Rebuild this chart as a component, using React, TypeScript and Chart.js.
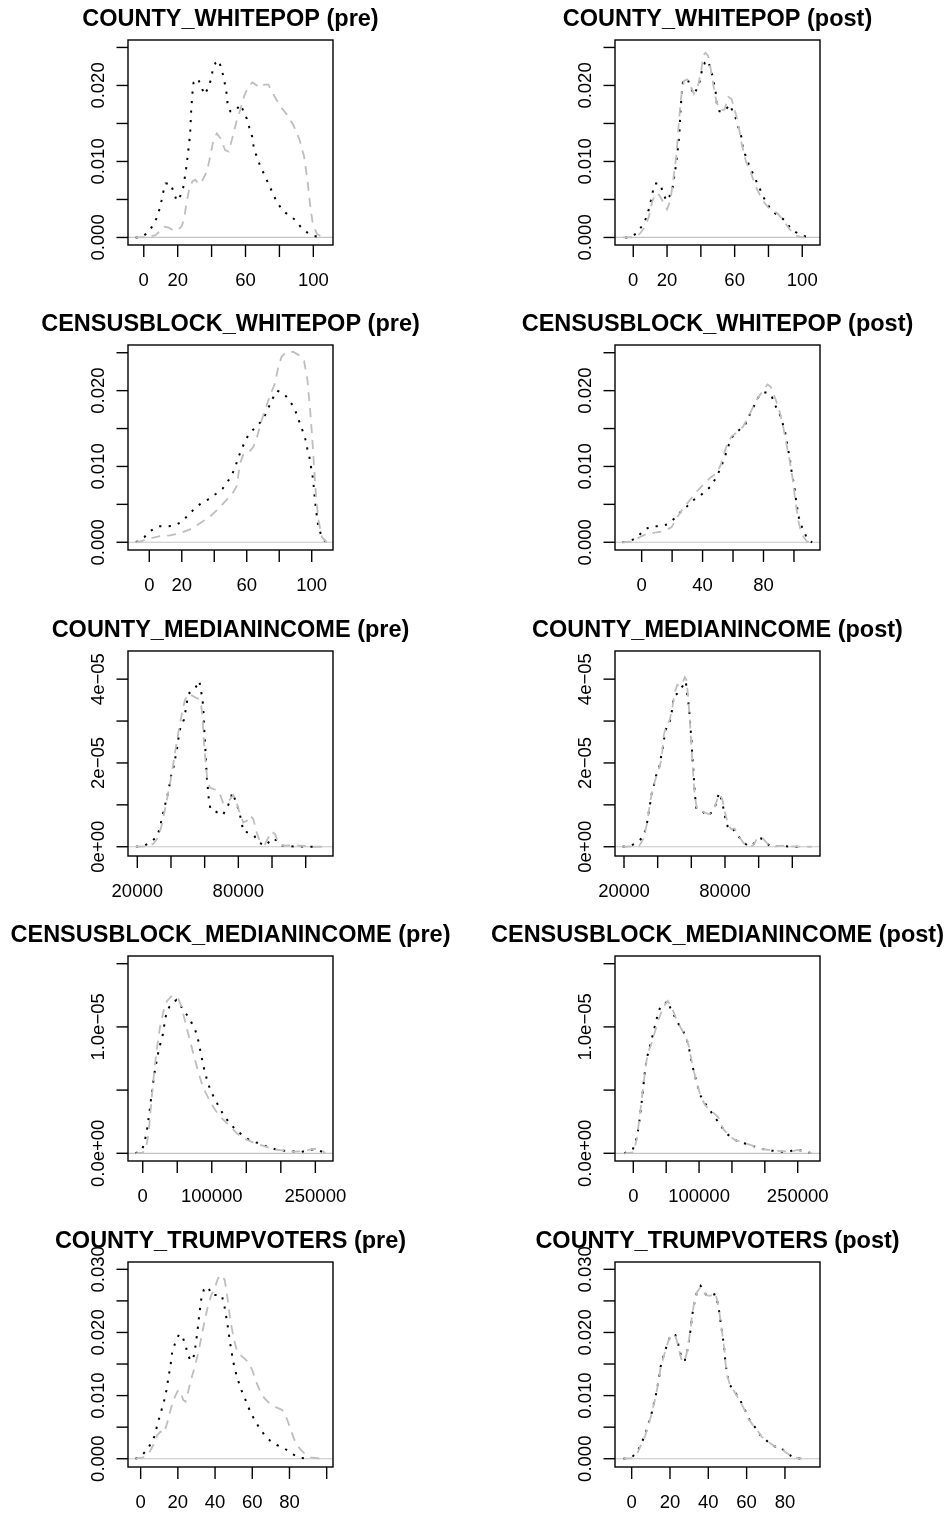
import React, { useEffect, useRef } from "react";
import { Chart, registerables } from "chart.js";

Chart.register(...registerables);

type Pt = [number, number];

// ---------- COUNTY_WHITEPOP ----------
const cwTreated: Pt[] = [
  [-4.8, 0], [-1.4, 0.00002], [2.5, 0.00066], [5.5, 0.00163], [7.8, 0.00264], [9.2, 0.0037], [10.4, 0.0048],
  [11.4, 0.0059], [12.9, 0.0071], [15.9, 0.0071], [17.6, 0.0059], [19.6, 0.0048], [21.6, 0.0055], [23.3, 0.0066],
  [24.9, 0.0089], [26.1, 0.0111], [27.3, 0.0135], [28.0, 0.0169], [28.8, 0.0192], [29.4, 0.0204], [32.0, 0.0209],
  [33.9, 0.0198], [35.9, 0.0188], [38.2, 0.0198], [39.8, 0.0209], [40.6, 0.022], [42.4, 0.023], [44.3, 0.0233],
  [45.7, 0.0222], [47.1, 0.0211], [48.0, 0.02], [49.0, 0.0188], [49.4, 0.0177], [51.0, 0.0166], [53.9, 0.0166],
  [57.1, 0.0175], [58.8, 0.0166], [60.8, 0.0156], [62.2, 0.0145], [63.9, 0.0133], [64.7, 0.0121], [66.1, 0.011],
  [67.8, 0.0099], [69.8, 0.0089], [72.0, 0.0078], [74.1, 0.0068], [76.3, 0.0057], [78.4, 0.0047], [81.4, 0.0037],
  [84.9, 0.003], [89.4, 0.0023], [92.5, 0.0014], [96.1, 0.0007], [100.4, 0.0002], [106.0, 0],
];
const cwControlPre: Pt[] = [
  [-4.8, 0], [2, 0.00004], [6.9, 0.0003], [9.8, 0.0009], [12.2, 0.0014], [14.7, 0.0013], [17.6, 0.0009],
  [20.6, 0.0011], [22.5, 0.0015], [23.9, 0.0027], [25.5, 0.0049], [27.1, 0.0067], [28.8, 0.0074], [30.4, 0.0076],
  [32.4, 0.007], [34.3, 0.0074], [37.3, 0.0087], [39.2, 0.0107], [41.2, 0.0129], [43.1, 0.0137], [45.1, 0.0131],
  [48.0, 0.0115], [50.0, 0.0113], [52.0, 0.0129], [54.5, 0.0151], [56.9, 0.0168], [59.2, 0.0186], [61.8, 0.0199],
  [64.1, 0.0204], [66.7, 0.02], [68.6, 0.0197], [71.0, 0.0201], [73.5, 0.0201], [76.5, 0.0188], [80.4, 0.0173],
  [84.3, 0.0162], [88.2, 0.0148], [91.8, 0.0129], [94.5, 0.0107], [96.5, 0.0076], [98.0, 0.0045], [99.6, 0.0019],
  [102.0, 0.0005], [104.9, 0.0001], [107.0, 0],
];
const cwControlPost: Pt[] = [
  [-6.0, 0], [1, 0.00004], [3.9, 0.0005], [6.9, 0.0014], [9.2, 0.0027], [11.2, 0.0047], [13.3, 0.0058],
  [15.3, 0.0056], [17.6, 0.0047], [20.0, 0.0037], [22.0, 0.0049], [23.9, 0.008], [25.5, 0.0107], [27.1, 0.0155],
  [28.4, 0.0186], [30.0, 0.0206], [32.0, 0.0208], [33.9, 0.0199], [35.9, 0.0189], [38.2, 0.0198], [40.2, 0.0219],
  [41.4, 0.0239], [42.7, 0.0243], [44.3, 0.0239], [45.9, 0.0221], [47.5, 0.0199], [49.0, 0.0181], [51.0, 0.0168],
  [53.9, 0.0168], [56.3, 0.0185], [58.2, 0.0182], [60.0, 0.0168], [61.8, 0.0153], [64.1, 0.0124], [66.7, 0.01],
  [69.6, 0.0085], [72.5, 0.0067], [76.5, 0.0049], [80.4, 0.0038], [85.3, 0.0032], [89.2, 0.0021], [92.5, 0.0011],
  [95.7, 0.0003], [100, 0], [105.5, 0],
];

// ---------- CENSUSBLOCK_WHITEPOP ----------
const cbwTreatedPre: Pt[] = [
  [-8.2, 0], [-3.1, 0.00066], [0.8, 0.0015], [5.5, 0.0021], [10.7, 0.0021], [15.8, 0.0022], [20.5, 0.0028],
  [24.0, 0.0036], [27.7, 0.0044], [32.2, 0.0052], [36.8, 0.0057], [41.1, 0.0064], [45.2, 0.0071], [48.3, 0.008],
  [51.1, 0.009], [53.2, 0.0101], [54.8, 0.0112], [56.9, 0.0123], [58.9, 0.0133], [61.4, 0.0143], [65.1, 0.0151],
  [68.8, 0.0159], [71.3, 0.0168], [73.7, 0.0179], [75.8, 0.0189], [78.6, 0.02], [82.8, 0.0196], [86.0, 0.0188],
  [89.3, 0.0177], [91.2, 0.0166], [93.2, 0.0154], [94.9, 0.0144], [96.5, 0.0133], [97.3, 0.0123], [98.6, 0.0112],
  [99.4, 0.0101], [100.4, 0.009], [101.0, 0.0079], [101.6, 0.0065], [102.1, 0.0054], [102.7, 0.0042],
  [104.0, 0.0022], [105.7, 0.001], [107.5, 0.0003], [109.2, 0],
];
const cbwControlPre: Pt[] = [
  [-8.2, 0], [-5.7, 0.0001], [0.4, 0.0005], [6.6, 0.0008], [12.7, 0.0009], [18.9, 0.0012], [25.1, 0.0017],
  [31.2, 0.0025], [37.4, 0.0034], [42.5, 0.0044], [47.6, 0.0056], [51.7, 0.0066], [53.8, 0.0074], [55.9, 0.0104],
  [57.9, 0.0116], [61.0, 0.0118], [64.1, 0.0126], [66.5, 0.014], [68.6, 0.0157], [71.3, 0.0175], [74.3, 0.0193],
  [77.4, 0.021], [79.5, 0.0232], [81.5, 0.0245], [84.6, 0.0251], [88.7, 0.0251], [92.8, 0.0246], [95.3, 0.0239],
  [97.3, 0.0215], [99.0, 0.0175], [100.4, 0.0135], [101.4, 0.01], [102.7, 0.006], [104.1, 0.003], [106.2, 0.0007],
  [109.2, 0],
];
const cbwTreatedPost: Pt[] = [
  [-12.5, 0], [-7.0, 0.0002], [-2.8, 0.0007], [1.5, 0.0016], [6.1, 0.0021], [12.1, 0.0021], [17.5, 0.0024],
  [21.9, 0.0032], [25.6, 0.004], [29.6, 0.0047], [33.5, 0.0055], [37.5, 0.006], [41.6, 0.0067], [45.6, 0.0074],
  [49.3, 0.0087], [51.9, 0.0098], [54.1, 0.011], [55.9, 0.012], [57.6, 0.0131], [60.3, 0.0142], [64.0, 0.0148],
  [67.9, 0.0155], [70.6, 0.0167], [73.4, 0.0178], [75.6, 0.0188], [78.2, 0.0196], [82.4, 0.0198], [85.5, 0.0192],
  [88.3, 0.0178], [91.0, 0.0167], [92.7, 0.0156], [94.2, 0.0145], [95.8, 0.0126], [97.1, 0.0113], [98.6, 0.0091],
  [100.2, 0.0074], [101.5, 0.0054], [103.0, 0.0034], [105.9, 0.0016], [109.6, 0.0002], [112.0, 0],
];
const cbwControlPost: Pt[] = [
  [-12.5, 0], [-5.5, 0.0001], [-1.1, 0.0007], [4.4, 0.0012], [9.9, 0.0013], [15.3, 0.0015], [19.7, 0.002],
  [23.0, 0.0032], [27.4, 0.0045], [31.8, 0.0056], [36.2, 0.0067], [40.5, 0.0076], [44.9, 0.0085], [49.3, 0.0091],
  [51.9, 0.0102], [54.1, 0.0117], [56.3, 0.013], [59.2, 0.014], [62.5, 0.0145], [66.4, 0.0152], [69.5, 0.0163],
  [72.3, 0.0175], [75.6, 0.0188], [79.6, 0.02], [82.6, 0.0208], [84.8, 0.0205], [87.7, 0.019], [90.5, 0.0173],
  [92.7, 0.0155], [94.9, 0.0131], [97.1, 0.0109], [99.3, 0.0082], [100.8, 0.0056], [103.0, 0.0027],
  [105.2, 0.001], [108.5, 0.0001], [112.0, 0],
];

// ---------- COUNTY_MEDIANINCOME ----------
const cmiTreatedPre: Pt[] = [
  [19200, 0], [23960, 2.4e-7], [28515, 1.19e-6], [31881, 2.61e-6], [33465, 4.59e-6], [34455, 6.57e-6],
  [35842, 8.79e-6], [37030, 1.093e-5], [38416, 1.307e-5], [40000, 1.687e-5], [41386, 1.885e-5], [42376, 2.083e-5],
  [43366, 2.281e-5], [44752, 2.677e-5], [45743, 2.875e-5], [47723, 3.034e-5], [48911, 3.311e-5], [50297, 3.651e-5],
  [53267, 3.731e-5], [55644, 3.865e-5], [56832, 3.96e-5], [57624, 3.762e-5], [58614, 3.548e-5], [59208, 3.311e-5],
  [59604, 2.915e-5], [60198, 2.479e-5], [60792, 2.083e-5], [61188, 1.687e-5], [61782, 1.45e-5], [62574, 1.093e-5],
  [63564, 8.79e-6], [66535, 8.4e-6], [70693, 7.52e-6], [73069, 9.11e-6], [75050, 1.093e-5], [76436, 1.291e-5],
  [78416, 1.093e-5], [80396, 8.55e-6], [81980, 5.78e-6], [82970, 3.56e-6], [86139, 3.41e-6], [89505, 2.61e-6],
  [91881, 1.03e-6], [96436, 2.4e-7], [99802, 1.98e-6], [102970, 1.5e-6], [106337, 2.4e-7], [112673, 8e-8],
  [121584, 0], [127525, 0],
];
const cmiControlPre: Pt[] = [
  [19200, 0], [25545, 8e-8], [29505, 7.1e-7], [32475, 2.22e-6], [34455, 5.15e-6], [36436, 8.95e-6],
  [38416, 1.291e-5], [40396, 1.727e-5], [42376, 2.242e-5], [44356, 2.717e-5], [46337, 3.152e-5], [48317, 3.509e-5],
  [50297, 3.651e-5], [52673, 3.604e-5], [55248, 3.548e-5], [56832, 3.525e-5], [58020, 3.35e-5], [58812, 3.034e-5],
  [59604, 2.479e-5], [60594, 2.004e-5], [61584, 1.608e-5], [63168, 1.41e-5], [65545, 1.37e-5], [67525, 1.354e-5],
  [69505, 1.212e-5], [71089, 1.03e-5], [73069, 1.053e-5], [75050, 1.133e-5], [77030, 1.228e-5], [79010, 1.053e-5],
  [80990, 7.76e-6], [82970, 5.78e-6], [84950, 6.18e-6], [86931, 7.52e-6], [88911, 6.57e-6], [90891, 3.41e-6],
  [92871, 1.19e-6], [95842, 6.3e-7], [97822, 2.22e-6], [99802, 3.64e-6], [101782, 3.01e-6], [103762, 8.7e-7],
  [106733, 2.4e-7], [112673, 3.2e-7], [116634, 2.4e-7], [124554, 0], [131500, 0],
];
const cmiTreatedPost: Pt[] = [
  [19200, 0], [23947, 2.4e-7], [28486, 1.19e-6], [31841, 2.61e-6], [34012, 6.34e-6], [36380, 1.251e-5],
  [37762, 1.465e-5], [38946, 1.687e-5], [40722, 1.861e-5], [41709, 2.083e-5], [43288, 2.4e-5], [44275, 2.717e-5],
  [45657, 2.891e-5], [47236, 2.994e-5], [48617, 3.271e-5], [49604, 3.604e-5], [51578, 3.651e-5], [53551, 3.762e-5],
  [55600, 3.88e-5], [56709, 3.95e-5], [57696, 3.6e-5], [58683, 3.311e-5], [59275, 2.954e-5], [60063, 2.558e-5],
  [60655, 2.123e-5], [61445, 1.687e-5], [62037, 1.291e-5], [63024, 8.95e-6], [66576, 8.4e-6], [69931, 7.37e-6],
  [72891, 8.55e-6], [74865, 1.038e-5], [76444, 1.291e-5], [77825, 1.133e-5], [79207, 8.95e-6], [80786, 5.62e-6],
  [82760, 3.8e-6], [85128, 4.04e-6], [87693, 2.61e-6], [90654, 1.19e-6], [93615, 2.4e-7], [96180, 2.4e-7],
  [98548, 1.58e-6], [101509, 1.98e-6], [104075, 1.19e-6], [106443, 2.4e-7], [114337, 1.6e-7], [121245, 0],
  [127166, 0],
];
const cmiControlPost: Pt[] = [
  [19200, 0], [25526, 8e-8], [29078, 2.4e-7], [31446, 1.82e-6], [33815, 5.78e-6], [35789, 1.133e-5],
  [38354, 1.568e-5], [40328, 1.806e-5], [42302, 2.083e-5], [43683, 2.677e-5], [45262, 2.891e-5], [47236, 3.034e-5],
  [48815, 3.35e-5], [50197, 3.683e-5], [51578, 3.865e-5], [53157, 3.826e-5], [54736, 3.905e-5], [56118, 4.048e-5],
  [57105, 3.984e-5], [58091, 3.588e-5], [59078, 3.034e-5], [60065, 2.4e-5], [61052, 1.766e-5], [62039, 1.212e-5],
  [63420, 8.95e-6], [66973, 8.32e-6], [70525, 7.76e-6], [73288, 8.95e-6], [75459, 1.133e-5], [76841, 1.251e-5],
  [78420, 1.133e-5], [79801, 8.55e-6], [81775, 5.39e-6], [83748, 4.2e-6], [85722, 4.36e-6], [88288, 2.46e-6],
  [91051, 8.7e-7], [94209, 8e-8], [96578, 2.4e-7], [99538, 2.22e-6], [102499, 1.98e-6], [105459, 6.3e-7],
  [108420, 8e-8], [114341, 2.4e-7], [118288, 8e-8], [127166, 0], [131500, 0],
];

// ---------- CENSUSBLOCK_MEDIANINCOME ----------
const cbmiTreatedPre: Pt[] = [
  [-10500, 0], [-1451, 2.1e-7], [2418, 8.4e-7], [5803, 1.72e-6], [9188, 3.03e-6], [13056, 4.75e-6],
  [16925, 6.33e-6], [21277, 7.65e-6], [25145, 8.58e-6], [29014, 9.37e-6], [33000, 1.077e-5], [38200, 1.156e-5],
  [44000, 1.193e-5], [48800, 1.214e-5], [53191, 1.182e-5], [58027, 1.14e-5], [63300, 1.1e-5], [68665, 1.055e-5],
  [75919, 9.76e-6], [79304, 9.23e-6], [83172, 8.18e-6], [87041, 7.12e-6], [90426, 6.33e-6], [95261, 5.41e-6],
  [102515, 4.49e-6], [109768, 3.75e-6], [117021, 3.03e-6], [126692, 2.32e-6], [136364, 1.79e-6], [146035, 1.37e-6],
  [155706, 1.0e-6], [167795, 7.9e-7], [179884, 5.3e-7], [191973, 3.2e-7], [204062, 2.1e-7], [216151, 1.6e-7],
  [228240, 8e-8], [240329, 2.6e-7], [251451, 3.4e-7], [264507, 0],
];
const cbmiControlPre: Pt[] = [
  [-10500, 0], [0, 5e-8], [4836, 4.7e-7], [8221, 1.45e-6], [10638, 2.9e-6], [14023, 5.01e-6], [17408, 6.86e-6],
  [21277, 8.58e-6], [25145, 1.003e-5], [29981, 1.121e-5], [34816, 1.201e-5], [40619, 1.24e-5], [46905, 1.245e-5],
  [51741, 1.222e-5], [56576, 1.148e-5], [61412, 1.042e-5], [66248, 9.37e-6], [72534, 8.05e-6], [78337, 6.86e-6],
  [84623, 5.67e-6], [90426, 4.88e-6], [97679, 4.09e-6], [104932, 3.43e-6], [112186, 2.9e-6], [119439, 2.51e-6],
  [126692, 2.11e-6], [136364, 1.58e-6], [146035, 1.19e-6], [160542, 8.4e-7], [175048, 5.8e-7], [189555, 3.2e-7],
  [204062, 2.1e-7], [218569, 1.3e-7], [233075, 1.6e-7], [245164, 3.2e-7], [252418, 3.7e-7], [259671, 2.1e-7],
  [264500, 0],
];
const cbmiTreatedPost: Pt[] = [
  [-13692, 0], [-1014, 2.6e-7], [3550, 9.2e-7], [6592, 1.58e-6], [10142, 2.9e-6], [13692, 4.49e-6],
  [16734, 6.07e-6], [20284, 7.44e-6], [24341, 8.31e-6], [28905, 9.23e-6], [32961, 1.008e-5], [37018, 1.095e-5],
  [41582, 1.166e-5], [46653, 1.174e-5], [52231, 1.206e-5], [57302, 1.135e-5], [63387, 1.077e-5], [69473, 1.016e-5],
  [76065, 9.63e-6], [81136, 9.02e-6], [85193, 8.18e-6], [88742, 7.12e-6], [92799, 6.33e-6], [97363, 5.41e-6],
  [101420, 4.62e-6], [109026, 3.96e-6], [116633, 3.38e-6], [124239, 2.85e-6], [131846, 2.24e-6], [141988, 1.58e-6],
  [149594, 1.19e-6], [159736, 9.2e-7], [172414, 7.4e-7], [185091, 5.3e-7], [197769, 3.2e-7], [210446, 2.1e-7],
  [223124, 1.3e-7], [235801, 1.1e-7], [247465, 3.2e-7], [261156, 1.3e-7], [271298, 0],
];
const cbmiControlPost: Pt[] = [
  [-13692, 0], [0, 8e-8], [5071, 1.06e-6], [9128, 2.64e-6], [12677, 4.22e-6], [16227, 5.8e-6], [20284, 7.39e-6],
  [23834, 8.18e-6], [28398, 8.76e-6], [32961, 9.63e-6], [38540, 1.061e-5], [45639, 1.156e-5], [52231, 1.206e-5],
  [58316, 1.156e-5], [64909, 1.069e-5], [72515, 9.89e-6], [80122, 9.18e-6], [84686, 8.44e-6], [88235, 7.39e-6],
  [92292, 6.46e-6], [96856, 5.54e-6], [102434, 4.49e-6], [109026, 3.83e-6], [116633, 3.35e-6], [122718, 3.17e-6],
  [129310, 2.85e-6], [136917, 1.9e-6], [146045, 1.37e-6], [154665, 1.06e-6], [167343, 8.4e-7], [182556, 5.8e-7],
  [197769, 3.2e-7], [212982, 2.1e-7], [228195, 1.6e-7], [240872, 1.3e-7], [249493, 2.6e-7], [261156, 1.1e-7],
  [271298, 0],
];

// ---------- COUNTY_TRUMPVOTERS ----------
const ctvTreatedPre: Pt[] = [
  [-2.8, 0], [0, 0.00032], [3.2, 0.00137], [5.9, 0.00254], [7.7, 0.00375], [8.9, 0.00534], [10.7, 0.00718],
  [12.5, 0.00903], [13.9, 0.01088], [15.0, 0.013], [16.1, 0.01484], [17.1, 0.01722], [18.9, 0.01854],
  [20.7, 0.01976], [22.5, 0.01933], [23.9, 0.01817], [25.5, 0.01643], [26.8, 0.01553], [28.2, 0.01574],
  [29.3, 0.01749], [30.4, 0.01986], [31.4, 0.0225], [32.5, 0.02515], [33.9, 0.02673], [36.3, 0.02726],
  [38.0, 0.02594], [40.7, 0.02594], [43.4, 0.02594], [44.6, 0.02488], [45.7, 0.02303], [47.0, 0.02065],
  [48.0, 0.01854], [49.3, 0.01616], [50.5, 0.01432], [52.3, 0.01247], [54.1, 0.01088], [56.4, 0.0093],
  [58.9, 0.00745], [61.3, 0.00613], [63.9, 0.00481], [66.6, 0.00375], [69.6, 0.00285], [73.2, 0.00217],
  [77.3, 0.00164], [80.9, 0.00085], [85.4, 0.00016], [89.8, 0],
];
const ctvControlPre: Pt[] = [
  [-2.8, 0], [1.4, 0.00021], [4.6, 0.00095], [6.8, 0.00217], [8.9, 0.00375], [10.7, 0.00428], [12.5, 0.00401],
  [14.3, 0.00571], [16.3, 0.00798], [18.4, 0.00983], [20.2, 0.01088], [21.4, 0.01062], [22.9, 0.0093],
  [24.1, 0.00903], [25.5, 0.01062], [27.3, 0.01273], [29.1, 0.01458], [30.9, 0.01669], [32.7, 0.01933],
  [34.5, 0.02198], [36.3, 0.02435], [38.0, 0.02594], [39.8, 0.027], [41.6, 0.02858], [43.4, 0.02911],
  [45.2, 0.02832], [46.6, 0.02567], [48.2, 0.02198], [50.0, 0.01907], [51.9, 0.01696], [54.6, 0.01616],
  [57.7, 0.01537], [60.0, 0.01405], [62.1, 0.0122], [64.3, 0.01062], [66.6, 0.00956], [69.3, 0.00877],
  [72.9, 0.00814], [76.1, 0.00771], [78.2, 0.00666], [80.4, 0.00481], [82.7, 0.00296], [85.4, 0.00164],
  [88.0, 0.00085], [91.6, 0.00021], [97.0, 0], [99.3, 0],
];
const ctvTreatedPost: Pt[] = [
  [-4.3, 0], [0, 0.00021], [3.0, 0.00111], [5.2, 0.00254], [7.0, 0.00375], [8.7, 0.00549], [10.4, 0.00718],
  [11.8, 0.00903], [13.0, 0.01062], [14.1, 0.01247], [15.1, 0.01458], [16.5, 0.01616], [17.9, 0.01749],
  [19.1, 0.01854], [20.3, 0.0196], [22.8, 0.0196], [24.2, 0.01828], [25.2, 0.01696], [26.3, 0.01564],
  [27.8, 0.01564], [28.9, 0.01696], [29.7, 0.01828], [30.6, 0.02013], [31.5, 0.0225], [32.5, 0.02435],
  [33.9, 0.0262], [36.0, 0.02736], [37.4, 0.02673], [38.8, 0.02594], [40.9, 0.02578], [43.7, 0.0261],
  [44.7, 0.02488], [45.6, 0.02345], [46.4, 0.02171], [47.3, 0.01986], [48.2, 0.01775], [49.0, 0.01511],
  [49.9, 0.01326], [51.3, 0.01167], [53.4, 0.01078], [55.7, 0.00972], [57.7, 0.00866], [59.3, 0.00761],
  [61.0, 0.00639], [63.1, 0.00549], [65.6, 0.00454], [67.8, 0.00338], [70.1, 0.00296], [72.5, 0.00232],
  [75.1, 0.0019], [77.4, 0.0019], [80.0, 0.00111], [84.3, 0.00021], [88.7, 0],
];
const ctvControlPost: Pt[] = [
  [-4.3, 0], [0, 0.0001], [3.0, 0.0009], [5.2, 0.0024], [7.0, 0.0036], [8.7, 0.0053], [10.4, 0.0071],
  [11.8, 0.0089], [13.0, 0.0106], [14.1, 0.0123], [15.1, 0.0144], [16.5, 0.016], [17.9, 0.0174], [19.1, 0.0186],
  [20.3, 0.0196], [22.8, 0.0195], [24.2, 0.018], [25.2, 0.0166], [26.3, 0.0154], [27.8, 0.0156], [28.9, 0.017],
  [29.7, 0.0184], [30.6, 0.0203], [31.5, 0.0226], [32.5, 0.0245], [33.9, 0.0263], [36.0, 0.0272], [37.4, 0.0266],
  [38.8, 0.0259], [40.9, 0.0258], [43.7, 0.0262], [44.7, 0.025], [45.6, 0.0236], [46.4, 0.0218], [47.3, 0.0199],
  [48.2, 0.0177], [49.0, 0.0151], [49.9, 0.0132], [51.3, 0.0117], [53.4, 0.0107], [55.7, 0.0096], [57.7, 0.0085],
  [59.3, 0.0075], [61.0, 0.0063], [63.1, 0.0054], [65.6, 0.0045], [67.8, 0.0035], [70.1, 0.003], [72.5, 0.0024],
  [75.1, 0.0019], [77.4, 0.0018], [80.0, 0.0011], [84.3, 0.0002], [88.7, 0],
];

// ---------- tick values and labels ----------
const pctTicks = [0, 20, 40, 60, 80, 100];
const pctLabelsA = ["0", "20", "", "60", "", "100"];
const pctLabelsB = ["0", "", "40", "", "80", ""];
const pctLabelsC = ["0", "20", "40", "60", "80", ""];
const pctTicks80 = [0, 20, 40, 60, 80];
const pctLabels80 = ["0", "20", "40", "60", "80"];
const incomeTicks = [20000, 40000, 60000, 80000, 100000, 120000];
const incomeLabels = ["20000", "", "", "80000", "", ""];
const blockIncomeTicks = [0, 50000, 100000, 150000, 200000, 250000];
const blockIncomeLabels = ["0", "", "100000", "", "", "250000"];
const density25Ticks = [0, 0.005, 0.01, 0.015, 0.02, 0.025];
const density25Labels = ["0.000", "", "0.010", "", "0.020", ""];
const density30Ticks = [0, 0.005, 0.01, 0.015, 0.02, 0.025, 0.03];
const density30Labels = ["0.000", "", "0.010", "", "0.020", "", "0.030"];
const incomeDensTicks = [0, 1e-5, 2e-5, 3e-5, 4e-5];
const incomeDensLabels = ["0e+00", "", "2e\u221205", "", "4e\u221205"];
const blockIncDensTicks = [0, 5e-6, 1e-5, 1.5e-5];
const blockIncDensLabels = ["0.0e+00", "", "1.0e\u221205", ""];

const titles = [
  "COUNTY_WHITEPOP (pre)", "COUNTY_WHITEPOP (post)",
  "CENSUSBLOCK_WHITEPOP (pre)", "CENSUSBLOCK_WHITEPOP (post)",
  "COUNTY_MEDIANINCOME (pre)", "COUNTY_MEDIANINCOME (post)",
  "CENSUSBLOCK_MEDIANINCOME (pre)", "CENSUSBLOCK_MEDIANINCOME (post)",
  "COUNTY_TRUMPVOTERS (pre)", "COUNTY_TRUMPVOTERS (post)",
];

interface Panel {
  title: string;
  row: number;
  col: number;
  xRange: [number, number];
  yRange: [number, number];
  xTicks: number[];
  xLabels: string[];
  yTicks: number[];
  yLabels: string[];
  treated: Pt[];
  control: Pt[];
}

const panels: Panel[] = [
  { title: titles[0], row: 0, col: 0, xRange: [-9.3, 111.6], yRange: [-0.00099, 0.02598], xTicks: pctTicks, xLabels: pctLabelsA, yTicks: density25Ticks, yLabels: density25Labels, treated: cwTreated, control: cwControlPre },
  { title: titles[1], row: 0, col: 1, xRange: [-10.8, 110.5], yRange: [-0.00099, 0.02598], xTicks: pctTicks, xLabels: pctLabelsA, yTicks: density25Ticks, yLabels: density25Labels, treated: cwTreated, control: cwControlPost },
  { title: titles[2], row: 1, col: 0, xRange: [-13.1, 113.1], yRange: [-0.00102, 0.02602], xTicks: pctTicks, xLabels: pctLabelsA, yTicks: density25Ticks, yLabels: density25Labels, treated: cbwTreatedPre, control: cbwControlPre },
  { title: titles[3], row: 1, col: 1, xRange: [-17.5, 117.1], yRange: [-0.00102, 0.02602], xTicks: pctTicks, xLabels: pctLabelsB, yTicks: density25Ticks, yLabels: density25Labels, treated: cbwTreatedPost, control: cbwControlPost },
  { title: titles[4], row: 2, col: 0, xRange: [14477, 136211], yRange: [-2.21e-6, 4.672e-5], xTicks: incomeTicks, xLabels: incomeLabels, yTicks: incomeDensTicks, yLabels: incomeDensLabels, treated: cmiTreatedPre, control: cmiControlPre },
  { title: titles[5], row: 2, col: 1, xRange: [14652, 136453], yRange: [-2.21e-6, 4.672e-5], xTicks: incomeTicks, xLabels: incomeLabels, yTicks: incomeDensTicks, yLabels: incomeDensLabels, treated: cmiTreatedPost, control: cmiControlPost },
  { title: titles[6], row: 3, col: 0, xRange: [-21330, 275580], yRange: [-6.1e-7, 1.561e-5], xTicks: blockIncomeTicks, xLabels: blockIncomeLabels, yTicks: blockIncDensTicks, yLabels: blockIncDensLabels, treated: cbmiTreatedPre, control: cbmiControlPre },
  { title: titles[7], row: 3, col: 1, xRange: [-27830, 283900], yRange: [-6.1e-7, 1.561e-5], xTicks: blockIncomeTicks, xLabels: blockIncomeLabels, yTicks: blockIncDensTicks, yLabels: blockIncDensLabels, treated: cbmiTreatedPost, control: cbmiControlPost },
  { title: titles[8], row: 4, col: 0, xRange: [-6.8, 103.4], yRange: [-0.00131, 0.03116], xTicks: pctTicks, xLabels: pctLabelsC, yTicks: density30Ticks, yLabels: density30Labels, treated: ctvTreatedPre, control: ctvControlPre },
  { title: titles[9], row: 4, col: 1, xRange: [-8.7, 98.3], yRange: [-0.00131, 0.03116], xTicks: pctTicks80, xLabels: pctLabels80, yTicks: density30Ticks, yLabels: density30Labels, treated: ctvTreatedPost, control: ctvControlPost },
];

// layout (pixels)
const CANVAS_W = 474;
const CANVAS_H = 292;
const ROW_TOPS = [40, 345, 651, 956, 1262];
const BOX_TOP_IN_CANVAS = 40;
const BOX_SIZE = 205;
const COL_BOX_LEFT = [128, 141];
const FONT = '"Liberation Sans", Arial, Helvetica, sans-serif';

function makeRPlugin(p: Panel) {
  return {
    id: "rStyle",
    beforeDatasetsDraw(chart: any) {
      const { ctx, chartArea, scales } = chart;
      const y0 = scales.y.getPixelForValue(0);
      ctx.save();
      ctx.strokeStyle = "#C4C4C4";
      ctx.lineWidth = 1.2;
      ctx.beginPath();
      ctx.moveTo(chartArea.left, y0);
      ctx.lineTo(chartArea.right, y0);
      ctx.stroke();
      ctx.restore();
    },
    afterDraw(chart: any) {
      const { ctx, chartArea, scales } = chart;
      const { left, right, top, bottom } = chartArea;
      ctx.save();
      ctx.strokeStyle = "#000";
      ctx.fillStyle = "#000";
      ctx.lineWidth = 1.4;
      ctx.setLineDash([]);
      ctx.strokeRect(left, top, right - left, bottom - top);

      // x ticks
      ctx.font = `18.5px ${FONT}`;
      ctx.textAlign = "center";
      ctx.textBaseline = "alphabetic";
      p.xTicks.forEach((v, i) => {
        const x = scales.x.getPixelForValue(v);
        ctx.beginPath();
        ctx.moveTo(x, bottom);
        ctx.lineTo(x, bottom + 12);
        ctx.stroke();
        if (p.xLabels[i]) ctx.fillText(p.xLabels[i], x, bottom + 41);
      });
      // y ticks
      p.yTicks.forEach((v, i) => {
        const y = scales.y.getPixelForValue(v);
        ctx.beginPath();
        ctx.moveTo(left - 11.5, y);
        ctx.lineTo(left, y);
        ctx.stroke();
        if (p.yLabels[i]) {
          ctx.save();
          ctx.translate(left - 24.5, y);
          ctx.rotate(-Math.PI / 2);
          ctx.fillText(p.yLabels[i], 0, 0);
          ctx.restore();
        }
      });
      // title
      ctx.font = `bold 23.5px ${FONT}`;
      ctx.fillText(p.title, (left + right) / 2, top - 14);
      ctx.restore();
    },
  };
}

function PanelChart({ p }: { p: Panel }) {
  const ref = useRef<HTMLCanvasElement>(null);
  const boxLeft = COL_BOX_LEFT[p.col];
  useEffect(() => {
    const canvas = ref.current;
    if (!canvas) return;
    const chart = new Chart(canvas, {
      type: "line",
      data: {
        datasets: [
          {
            data: p.control.map(([x, y]) => ({ x, y })),
            borderColor: "#BEBEBE",
            borderWidth: 1.8,
            borderDash: [9, 7],
            pointRadius: 0,
            tension: 0,
            fill: false,
          },
          {
            data: p.treated.map(([x, y]) => ({ x, y })),
            borderColor: "#000000",
            borderWidth: 2,
            borderDash: [2.2, 7.3],
            pointRadius: 0,
            tension: 0,
            fill: false,
          },
        ],
      },
      options: {
        animation: false,
        responsive: false,
        devicePixelRatio: 1,
        events: [],
        layout: {
          padding: {
            left: boxLeft,
            right: CANVAS_W - boxLeft - BOX_SIZE,
            top: BOX_TOP_IN_CANVAS,
            bottom: CANVAS_H - BOX_TOP_IN_CANVAS - BOX_SIZE,
          },
        },
        plugins: {
          legend: { display: false },
          tooltip: { enabled: false },
          title: { display: false },
        },
        scales: {
          x: { type: "linear", min: p.xRange[0], max: p.xRange[1], display: false },
          y: { type: "linear", min: p.yRange[0], max: p.yRange[1], display: false },
        },
      },
      plugins: [makeRPlugin(p)],
    } as any);
    return () => chart.destroy();
  }, [p, boxLeft]);
  return (
    <canvas
      ref={ref}
      width={CANVAS_W}
      height={CANVAS_H}
      style={{
        position: "absolute",
        left: p.col * CANVAS_W,
        top: ROW_TOPS[p.row] - BOX_TOP_IN_CANVAS,
        width: CANVAS_W,
        height: CANVAS_H,
      }}
    />
  );
}

export default function App() {
  return (
    <div
      style={{
        position: "absolute",
        left: 0,
        top: 0,
        width: 948,
        height: 1514,
        background: "#ffffff",
        overflow: "hidden",
      }}
    >
      {panels.map((p, i) => (
        <PanelChart key={i} p={p} />
      ))}
    </div>
  );
}
